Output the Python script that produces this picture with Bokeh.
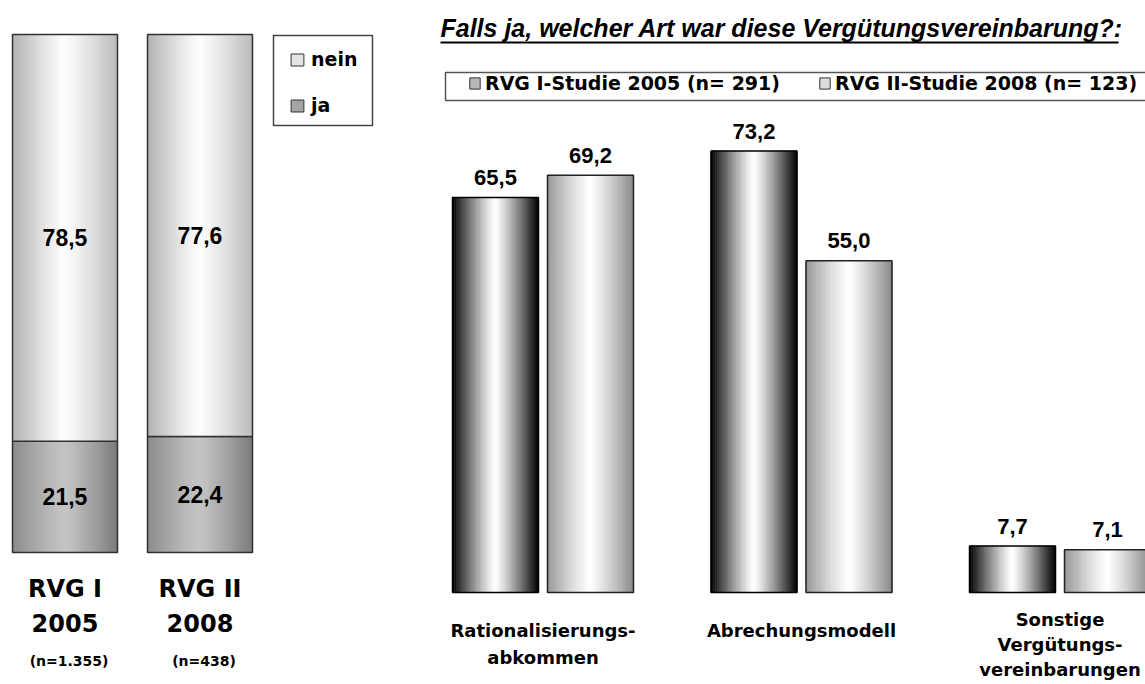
from bokeh.plotting import figure
from bokeh.layouts import row
from bokeh.models import Range1d, Legend, LegendItem
from bokeh.core.properties import value
from bokeh.embed import file_html
from bokeh.resources import INLINE

# ---------------- data ----------------
study_labels = ["RVG I", "RVG II"]
study_years = ["2005", "2008"]
study_n = ["(n=1.355)", "(n=438)"]
share_ja = [21.5, 22.4]
share_nein = [78.5, 77.6]
stack_names = ["nein", "ja"]

title_text = "Falls ja, welcher Art war diese Vergütungsvereinbarung?:"
agreement_types = ["Rationalisierungs-\nabkommen", "Abrechungsmodell",
                   "Sonstige\nVergütungs-\nvereinbarungen"]
series_names = ["RVG I-Studie 2005 (n= 291)", "RVG II-Studie 2008 (n= 123)"]
values_2005 = [65.5, 73.2, 7.7]
values_2008 = [69.2, 55.0, 7.1]

NAN = float("nan")


def fmt(v):
    return f"{v:.1f}".replace(".", ",")


def grey(g):
    g = int(round(max(0, min(255, g))))
    return "#%02x%02x%02x" % (g, g, g)


def gradient_bars(p, centers, width, bottoms, tops, edge_l, mid, edge_r,
                  line_color, line_width, n=40, power=1.2):
    L, R, B, T, C = [], [], [], [], []
    for c, b, t in zip(centers, bottoms, tops):
        x0 = c - width / 2
        for k in range(n):
            u = (k + 0.5) / n
            if u < 0.5:
                d = (0.5 - u) / 0.5
                g = mid - (mid - edge_l) * d ** power
            else:
                d = (u - 0.5) / 0.5
                g = mid - (mid - edge_r) * d ** power
            L.append(x0 + width * k / n)
            R.append(x0 + width * (k + 1) / n)
            B.append(b)
            T.append(t)
            C.append(grey(g))
    p.quad(left=L, right=R, bottom=B, top=T, fill_color=C, line_color=C,
           line_width=0.8)
    p.quad(left=[c - width / 2 for c in centers],
           right=[c + width / 2 for c in centers],
           bottom=bottoms, top=tops, fill_color=None,
           line_color=line_color, line_width=line_width)


H = 684
BOLD_WIDE = value("DejaVu Sans")
ARIAL = value("Liberation Sans")

# ---------------- left panel ----------------
WL = 400
L_PX = 135.0
L_X0 = -64.5 / L_PX
L_PY = 5.18
L_BASE = 552


def lx(px):
    return L_X0 + px / L_PX


def ly(py):
    return (L_BASE - py) / L_PY


pl = figure(width=WL, height=H, x_range=Range1d(lx(0), lx(WL)),
            y_range=Range1d(ly(H), ly(0)), output_backend="svg",
            toolbar_location=None, x_axis_location=None,
            y_axis_location=None, min_border=0, outline_line_color=None,
            background_fill_color="white", border_fill_color="white")
pl.grid.visible = False

xs_left = list(range(len(study_labels)))
bw_left = 105 / L_PX
zeros = [0] * len(share_ja)
ja_top = [a for a in share_ja]
nein_top = [a + b for a, b in zip(share_ja, share_nein)]

gradient_bars(pl, xs_left, bw_left, zeros, ja_top, 138, 196, 122,
              "#303030", 1.5)
gradient_bars(pl, xs_left, bw_left, ja_top, nein_top, 176, 253, 186,
              "#303030", 1.5)

# values in segments
pl.text(x=xs_left, y=[a / 2 for a in share_ja], text=[fmt(v) for v in share_ja],
        text_font=ARIAL, text_font_style="bold", text_font_size="23px",
        text_align="center", text_baseline="middle", text_color="black")
pl.text(x=xs_left, y=[a + b / 2 for a, b in zip(share_ja, share_nein)],
        text=[fmt(v) for v in share_nein],
        text_font=ARIAL, text_font_style="bold", text_font_size="23px",
        text_align="center", text_baseline="middle", text_color="black")

# category labels below
pl.text(x=xs_left, y=[ly(588)] * 2, text=study_labels, text_font=BOLD_WIDE,
        text_font_style="bold", text_font_size="24px", text_align="center",
        text_baseline="middle", text_color="black")
pl.text(x=xs_left, y=[ly(622)] * 2, text=study_years, text_font=BOLD_WIDE,
        text_font_style="bold", text_font_size="24px", text_align="center",
        text_baseline="middle", text_color="black")
pl.text(x=[x + 0.03 for x in xs_left], y=[ly(660)] * 2, text=study_n,
        text_font=BOLD_WIDE, text_font_style="bold", text_font_size="14px",
        text_align="center", text_baseline="middle", text_color="black")

# legend (left)
pl.quad(left=[lx(273)], right=[lx(372)], top=[ly(35)], bottom=[ly(125)],
        fill_color=None, line_color="#444444", line_width=1.5)
r_nein = pl.quad(left=[NAN], right=[NAN], bottom=[NAN], top=[NAN],
                 fill_color="#e4e4e4", line_color="#333333", line_width=1)
r_ja = pl.quad(left=[NAN], right=[NAN], bottom=[NAN], top=[NAN],
               fill_color="#a4a4a4", line_color="#333333", line_width=1)
leg_l = Legend(items=[LegendItem(label=stack_names[0], renderers=[r_nein]),
                      LegendItem(label=stack_names[1], renderers=[r_ja])],
               location=(289, H - 116), orientation="vertical", padding=0,
               margin=0, spacing=24, glyph_width=16, glyph_height=15,
               label_height=20, label_standoff=6, label_text_font="DejaVu Sans",
               label_text_font_style="bold", label_text_font_size="19px",
               label_text_color="black",
               border_line_color=None, background_fill_alpha=0)
pl.add_layout(leg_l)

# ---------------- right panel ----------------
WR = 745
R_OFF = 400
R_PX = 258.5
R_X0 = -142.5 / R_PX
R_PY = 6.03
R_BASE = 592


def rx(px):
    return R_X0 + (px - R_OFF) / R_PX


def ry(py):
    return (R_BASE - py) / R_PY


pr = figure(width=WR, height=H, x_range=Range1d(rx(R_OFF), rx(R_OFF + WR)),
            y_range=Range1d(ry(H), ry(0)), output_backend="svg",
            toolbar_location=None, x_axis_location=None,
            y_axis_location=None, min_border=0, outline_line_color=None,
            background_fill_color="white", border_fill_color="white")
pr.grid.visible = False

groups = list(range(len(agreement_types)))
dodge = 47.5 / R_PX
bw_right = 86 / R_PX
x_2005 = [g - dodge for g in groups]
x_2008 = [g + dodge for g in groups]
zr = [0] * len(groups)

gradient_bars(pr, x_2005, bw_right, zr, values_2005, 0, 255, 0,
              "#000000", 1.5)
gradient_bars(pr, x_2008, bw_right, zr, values_2008, 150, 255, 136,
              "#222222", 1.5)

pr.text(x=x_2005, y=values_2005, text=[fmt(v) for v in values_2005],
        text_font=ARIAL, text_font_style="bold", text_font_size="22px",
        text_align="center", text_baseline="middle", y_offset=-20,
        text_color="black")
pr.text(x=x_2008, y=values_2008, text=[fmt(v) for v in values_2008],
        text_font=ARIAL, text_font_style="bold", text_font_size="22px",
        text_align="center", text_baseline="middle", y_offset=-20,
        text_color="black")

short_idx = [i for i, t in enumerate(agreement_types) if t.count("\n") < 2]
long_idx = [i for i, t in enumerate(agreement_types) if t.count("\n") >= 2]
pr.text(x=[groups[i] for i in short_idx], y=[ry(619)] * len(short_idx),
        text=[agreement_types[i] for i in short_idx],
        text_font=BOLD_WIDE, text_font_style="bold", text_font_size="18px",
        text_align="center", text_baseline="top", text_line_height=1.33,
        text_color="black")
pr.text(x=[groups[i] for i in long_idx], y=[ry(608)] * len(long_idx),
        text=[agreement_types[i] for i in long_idx],
        text_font=BOLD_WIDE, text_font_style="bold", text_font_size="18px",
        text_align="center", text_baseline="top", text_line_height=1.2,
        text_color="black")

# title with underline
pr.text(x=[rx(440)], y=[ry(27)], text=[title_text], text_font=ARIAL,
        text_font_style="bold italic", text_font_size="25px", text_align="left",
        text_baseline="middle", text_color="black")
pr.segment(x0=[rx(440)], y0=[ry(42)], x1=[rx(1118)], y1=[ry(42)],
           line_color="black", line_width=2)

# legend (right)
pr.quad(left=[rx(445)], right=[rx(1160)], top=[ry(72)], bottom=[ry(100)],
        fill_color=None, line_color="#555555", line_width=1.5)
r_05 = pr.quad(left=[NAN], right=[NAN], bottom=[NAN], top=[NAN],
               fill_color="#b8b8b8", line_color="#333333", line_width=1)
r_08 = pr.quad(left=[NAN], right=[NAN], bottom=[NAN], top=[NAN],
               fill_color="#dcdcdc", line_color="#333333", line_width=1)
leg_r = Legend(items=[LegendItem(label=series_names[0], renderers=[r_05]),
                      LegendItem(label=series_names[1], renderers=[r_08])],
               location=(468 - R_OFF, H - 94), orientation="horizontal",
               padding=0, margin=0, spacing=38, glyph_width=13,
               glyph_height=14, label_height=20, label_standoff=4,
               label_text_font="DejaVu Sans", label_text_font_style="bold",
               label_text_font_size="19px", label_text_color="black",
               border_line_color=None, background_fill_alpha=0)
pr.add_layout(leg_r)

layout = row(pl, pr)
open("out.html", "w").write(file_html(layout, INLINE))
